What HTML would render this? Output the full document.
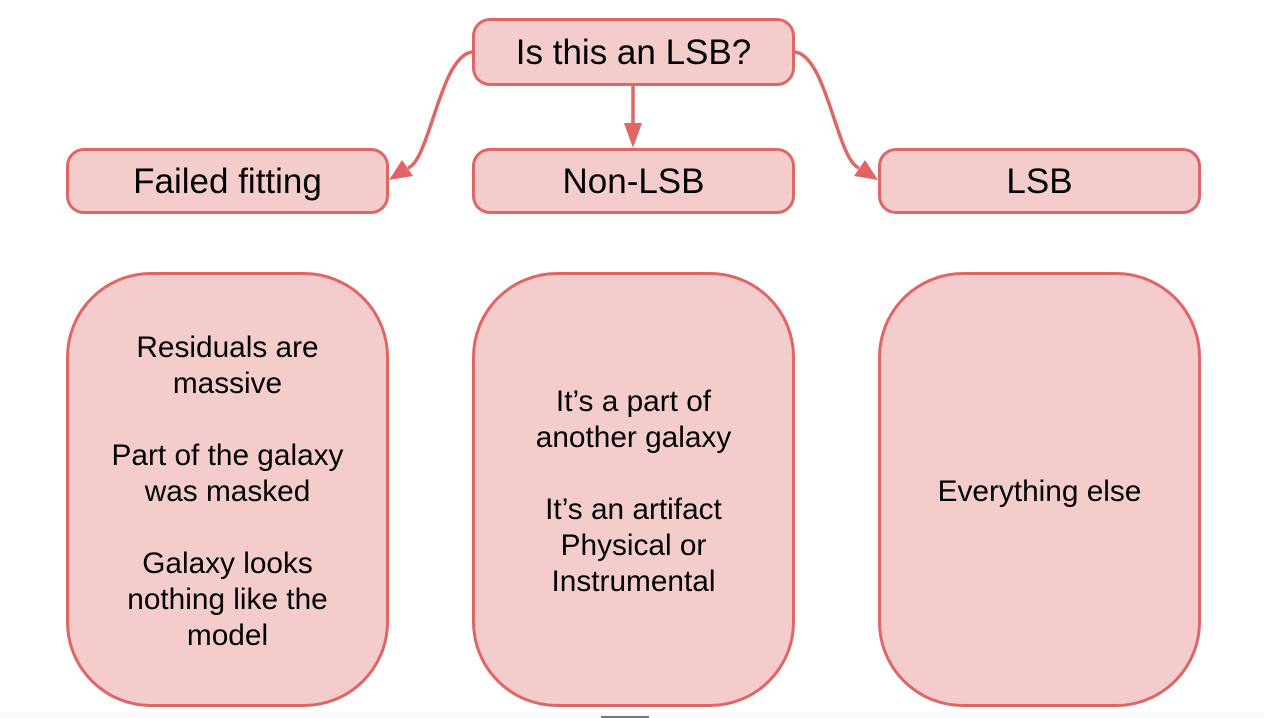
<!DOCTYPE html>
<html><head><style>
body{margin:0;width:1264px;height:718px;background:#fff;position:relative;overflow:hidden;font-family:"Liberation Sans",Arial,sans-serif;}
.b{position:absolute;box-sizing:border-box;background:#f4cccc;border:3.5px solid #e06666;display:flex;align-items:center;justify-content:center;text-align:center;color:#000;}
.s{border-radius:18px;font-size:35px;padding-top:2px;}
.g{border-radius:85px;font-size:29.8px;line-height:36px;padding-top:4px;}
</style></head><body>
<div class="b s" style="left:472px;top:18px;width:323px;height:68px;">Is this an LSB?</div>
<div class="b s" style="left:66px;top:148px;width:323px;height:66px;">Failed fitting</div>
<div class="b s" style="left:472px;top:148px;width:323px;height:66px;">Non-LSB</div>
<div class="b s" style="left:878px;top:148px;width:323px;height:66px;">LSB</div>
<div class="b g" style="left:66px;top:272px;width:323px;height:435px;">Residuals are<br>massive<br><br>Part of the galaxy<br>was masked<br><br>Galaxy looks<br>nothing like the<br>model</div>
<div class="b g" style="left:472px;top:272px;width:323px;height:435px;">It’s a part of<br>another galaxy<br><br>It’s an artifact<br>Physical or<br>Instrumental</div>
<div class="b g" style="left:878px;top:272px;width:323px;height:435px;">Everything else</div>
<svg width="1264" height="718" style="position:absolute;left:0;top:0">
<g fill="none" stroke="#e06666" stroke-width="3.5">
<path d="M472,52 C440,56 430,160 408,168"/>
<path d="M795,52 C827,56 837,160 859,168"/>
<path d="M633,86 L633,126"/>
</g>
<g fill="#e06666">
<polygon points="389,180 402,160 413,176"/>
<polygon points="878,180 865,160 854,176"/>
<polygon points="633,148 624,123 642,123"/>
</g>
</svg>
<div style="position:absolute;left:0;top:712px;width:1264px;height:6px;background:#f8f9fa"></div>
<div style="position:absolute;left:601px;top:716px;width:48px;height:2px;background:#777"></div>
</body></html>
